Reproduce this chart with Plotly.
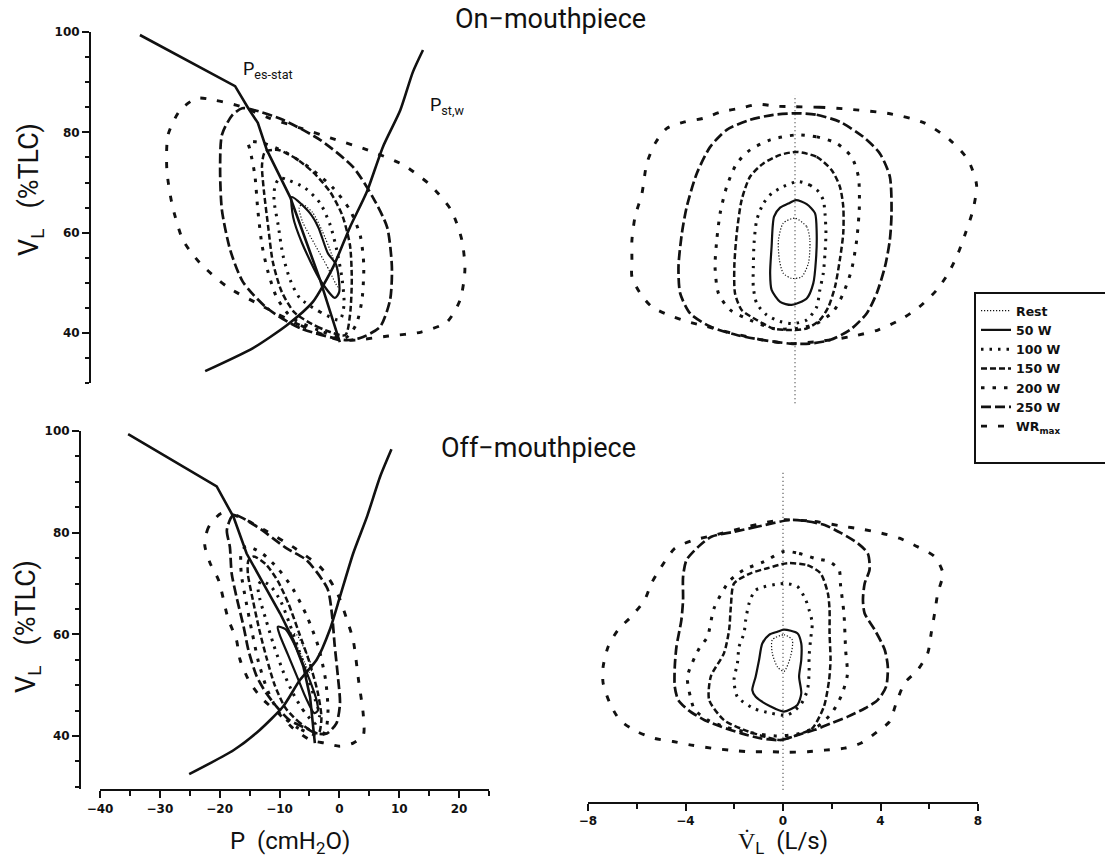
import plotly.graph_objects as go

# ---------------- data: On-mouthpiece, pressure-volume (P in cmH2O, VL in %TLC)
on_pes_p = [-35.5, -19.6, -17.4, -15.8, -14.3, -10.4, -5.4, -2.1]
on_pes_v = [99.4, 89.2, 84.8, 81.9, 76.5, 67.1, 50.6, 38.2]
on_pstw_p = [-24.6, -16.6, -10.9, -6.6, -3.2, -0.4, 2.4, 5.1, 8.0, 10.1, 11.8]
on_pstw_v = [32.4, 37.0, 41.6, 46.2, 53.2, 61.1, 68.1, 77.1, 84.4, 92.0, 96.4]

on_rest_p = [-2.4, -4.1, -6.2, -8.3, -8.9, -8.4, -6.7, -5.1, -3.4, -2.2]
on_rest_v = [49.2, 53.0, 57.5, 62.1, 64.9, 65.7, 64.1, 60.5, 55.5, 51.0]
on_50_p = [-2.9, -5.4, -8.4, -9.9, -10.1, -7.1, -5.7, -4.1, -2.7, -2.2]
on_50_v = [47.0, 50.6, 57.9, 63.1, 67.1, 63.9, 61.1, 55.9, 53.6, 48.2]
on_100_p = [-2.1, -5.4, -8.8, -10.4, -11.6, -12.4, -13.1, -12.9, -12.1, -10.8, -7.9, -5.4, -3.7, -2.6, -1.7, -1.4]
on_100_v = [42.6, 44.2, 47.0, 50.6, 55.5, 61.5, 66.5, 69.5, 70.9, 70.5, 68.9, 65.9, 61.5, 56.5, 50.6, 45.6]
on_150_p = [-1.2, -5.4, -9.6, -11.8, -13.3, -14.1, -14.8, -15.1, -14.6, -12.4, -9.6, -6.6, -3.7, -1.7, -0.4, -0.1, -0.4]
on_150_v = [39.6, 41.0, 44.0, 48.2, 54.2, 61.5, 68.5, 73.5, 76.1, 76.5, 74.9, 72.1, 68.1, 63.5, 57.5, 50.6, 43.6]
on_200_p = [-1.2, -5.7, -10.1, -12.6, -14.1, -15.1, -15.8, -16.3, -17.1, -17.4, -15.1, -11.3, -7.1, -3.2, -0.4, 1.3, 1.9, 1.6, 0.6]
on_200_v = [39.0, 40.6, 43.0, 47.0, 52.2, 57.5, 64.5, 71.5, 76.5, 78.1, 77.9, 76.1, 72.9, 68.9, 64.5, 59.5, 53.6, 46.6, 41.6]
on_250_p = [-1.2, -8.8, -14.3, -18.3, -20.4, -21.8, -22.1, -21.8, -20.1, -18.4, -16.3, -11.6, -5.4, 0.1, 3.4, 5.8, 6.6, 6.3, 4.6, 1.3]
on_250_v = [38.6, 41.0, 45.0, 50.2, 56.5, 64.5, 72.5, 79.5, 83.4, 84.8, 84.4, 82.5, 78.5, 73.1, 67.1, 61.1, 53.2, 46.6, 41.2, 39.0]
on_wr_p = [-2.1, -8.8, -15.4, -20.9, -25.5, -28.3, -30.1, -31.0, -30.8, -28.8, -26.0, -23.0, -18.8, -13.8,
           -8.8, -3.7, 2.5, 8.5, 13.0, 16.5, 18.3, 18.8, 18.0, 15.8, 11.5, 6.0, 0.6]
on_wr_v = [38.6, 41.6, 45.6, 49.2, 54.0, 58.5, 65.5, 72.5, 79.5, 84.4, 86.8, 86.4, 85.2, 82.8,
           80.9, 78.9, 76.5, 73.5, 69.5, 64.5, 58.5, 52.6, 46.6, 42.2, 40.2, 39.4, 38.6]

# ---------------- data: On-mouthpiece, flow-volume (flow in L/s)
on_zero_v = [26.0, 87.4]
onf_rest_f = [0.0, 0.48, 0.61, 0.55, 0.27, -0.14, -0.48, -0.64, -0.68, -0.48]
onf_rest_v = [62.9, 61.2, 58.5, 53.9, 51.2, 50.9, 51.9, 54.6, 58.5, 61.9]
onf_50_f = [0.04, 0.48, 0.82, 0.89, 0.86, 0.75, 0.48, -0.14, -0.61, -0.96, -1.02, -0.96, -0.86, -0.61, -0.27]
onf_50_v = [66.5, 65.7, 63.9, 59.9, 54.6, 49.9, 46.9, 45.6, 46.2, 48.6, 51.9, 57.2, 63.2, 65.0, 65.8]
onf_100_f = [0.14, 0.61, 0.96, 1.16, 1.23, 1.27, 1.23, 1.16, 1.02, 0.89, 0.48, -0.07, -0.61, -1.16, -1.57,
             -1.71, -1.71, -1.68, -1.57, -1.30, -0.96, -0.48]
onf_100_v = [70.2, 69.5, 68.2, 66.5, 63.9, 59.9, 55.9, 51.9, 48.6, 45.2, 42.6, 41.9, 42.3, 43.6, 45.9,
             49.2, 53.2, 57.9, 62.5, 65.8, 67.8, 69.2]
onf_150_f = [0.07, 0.89, 1.50, 1.84, 1.98, 1.98, 1.84, 1.64, 1.37, 1.02, 0.48, -0.20, -0.89, -1.57, -2.19,
             -2.46, -2.49, -2.39, -2.19, -1.84, -1.30, -0.61]
onf_150_v = [76.1, 75.1, 72.5, 69.2, 65.2, 59.9, 54.6, 49.2, 45.2, 42.6, 40.9, 40.6, 40.9, 42.6, 44.6,
             47.9, 53.2, 59.9, 66.5, 71.2, 73.8, 75.5]
onf_200_f = [0.07, 0.89, 1.71, 2.32, 2.60, 2.64, 2.53, 2.32, 1.98, 1.57, 0.89, 0.07, -0.89, -1.84, -2.66,
             -3.14, -3.28, -3.21, -3.07, -2.80, -2.39, -1.84, -1.02]
onf_200_v = [79.5, 79.1, 77.8, 75.1, 71.2, 65.2, 58.5, 52.6, 47.9, 44.3, 41.9, 40.9, 40.9, 42.6, 44.6,
             47.9, 53.2, 58.5, 63.9, 69.2, 73.8, 76.5, 78.5]
onf_250_f = [0.07, 0.89, 1.84, 2.80, 3.48, 3.89, 3.96, 3.89, 3.69, 3.35, 2.94, 2.25, 1.43, 0.61, -0.20,
             -1.30, -2.39, -3.48, -4.30, -4.71, -4.78, -4.64, -4.44, -4.03, -3.48, -2.80, -1.84, -0.89]
onf_250_v = [83.8, 83.5, 82.1, 79.1, 75.8, 71.2, 63.9, 58.5, 53.2, 47.9, 43.9, 40.6, 38.6, 37.9, 37.9,
             38.6, 39.6, 41.3, 43.9, 47.9, 53.2, 59.9, 65.2, 71.8, 77.1, 80.5, 82.5, 83.5]
onf_wr_f = [0.0, 1.0, 2.25, 3.9, 5.3, 6.35, 7.1, 7.45, 7.3, 7.0, 6.7, 6.3, 5.8, 5.1, 4.3, 3.4, 2.3, 1.1,
            -0.2, -1.30, -2.53, -3.62, -4.44, -5.19, -5.87, -6.35, -6.69, -6.69, -6.69, -6.56, -6.28,
            -6.08, -5.74, -5.26, -4.51, -3.76, -3.01, -2.25, -1.50, -0.75]
onf_wr_v = [85.1, 85.0, 84.6, 83.7, 81.9, 78.5, 74.5, 69.5, 64.5, 60.0, 56.0, 52.0, 48.5, 45.2, 42.6, 40.6,
            39.3, 38.4, 37.9, 38.6, 39.9, 41.3, 42.3, 43.6, 45.2, 47.9, 51.2, 54.6, 58.5, 63.2, 67.8,
            73.8, 77.8, 80.8, 82.1, 82.8, 84.1, 84.8, 85.6, 85.2]

# ---------------- data: Off-mouthpiece, pressure-volume
off_pes_p = [-35.3, -20.5, -17.7, -15.5, -12.7, -9.9, -7.7, -6.0, -4.9, -4.1]
off_pes_v = [99.4, 89.1, 83.1, 75.9, 70.0, 64.1, 58.9, 53.6, 47.7, 38.6]
off_pstw_p = [-25.1, -17.7, -13.3, -9.4, -6.6, -3.8, -1.6, 0.1, 2.3, 4.6, 6.8, 8.7]
off_pstw_v = [32.5, 37.2, 41.2, 45.8, 51.0, 55.0, 60.9, 67.4, 75.9, 83.1, 91.0, 96.4]

off_rest_p = [-5.0, -5.8, -7.0, -8.2, -7.2, -6.0, -5.0, -4.6]
off_rest_v = [52.5, 54.5, 57.5, 60.2, 60.0, 57.5, 55.0, 53.0]
off_50_p = [-4.2, -5.6, -7.0, -8.6, -10.0, -10.3, -9.0, -7.5, -6.0, -4.8, -3.8, -3.6]
off_50_v = [44.5, 47.5, 51.5, 56.0, 60.0, 61.5, 61.0, 58.0, 54.0, 50.5, 47.0, 45.0]
off_100_p = [-4.0, -6.0, -7.8, -9.5, -11.0, -12.3, -13.3, -13.6, -13.0, -11.5, -9.8, -8.3, -6.8, -5.3, -4.0, -3.3]
off_100_v = [42.5, 45.0, 48.5, 53.0, 58.0, 63.0, 67.0, 69.5, 70.5, 69.5, 66.5, 62.0, 57.0, 51.5, 47.0, 44.0]
off_150_p = [-3.5, -6.5, -9.0, -10.8, -12.2, -13.4, -14.5, -15.3, -15.2, -14.3, -12.3, -10.3, -8.5, -6.8, -5.0, -3.6, -3.0]
off_150_v = [40.5, 42.5, 45.5, 50.0, 55.5, 61.0, 67.0, 72.0, 74.5, 75.3, 73.8, 70.5, 66.0, 60.5, 54.5, 48.5, 43.5]
off_200_p = [-3.0, -6.8, -10.0, -12.0, -13.5, -14.6, -15.6, -16.4, -16.4, -15.6, -13.0, -10.3, -7.8, -5.4, -3.5, -2.3, -1.9, -2.2]
off_200_v = [40.0, 41.5, 44.5, 49.0, 54.5, 60.5, 66.5, 72.0, 76.0, 77.3, 76.0, 73.0, 69.0, 63.5, 57.5, 51.0, 45.0, 41.5]
off_250_p = [-17.7, -18.8, -18.3, -18.0, -17.2, -16.0, -15.2, -13.8, -12.2, -10.5, -8.3, -5.5, -3.8, -2.1,
             -0.5, 0.1, -0.3, -0.8, -1.2, -2.0, -5.5, -8.8, -13.8]
off_250_v = [83.5, 80.5, 77.2, 72.0, 67.4, 61.5, 56.9, 51.7, 48.4, 45.8, 43.1, 41.5, 40.5, 40.5,
             42.5, 46.4, 52.3, 58.0, 63.5, 69.0, 74.6, 76.9, 81.2]
off_wr_p = [-19.7, -21.9, -22.5, -21.6, -20.2, -18.6, -17.2, -16.6, -14.9, -12.7, -10.2, -8.0, -4.8, -2.4,
            0.0, 2.3, 4.0, 4.0, 3.2, 2.3, 1.2, -0.3, -3.0, -7.5, -12.5, -16.5]
off_wr_v = [83.8, 81.0, 77.6, 74.0, 70.7, 63.1, 58.9, 55.0, 50.4, 47.1, 44.5, 41.8, 39.2, 38.6,
            38.0, 38.6, 40.2, 44.1, 51.0, 58.9, 63.1, 68.0, 73.0, 77.0, 80.5, 83.0]

# ---------------- data: Off-mouthpiece, flow-volume
off_zero_v = [29.4, 92.0]
offf_rest_f = [-0.44, 0.04, 0.38, 0.31, 0.04, -0.23, -0.44]
offf_rest_v = [58.9, 59.9, 58.9, 55.6, 52.7, 53.6, 56.3]
offf_50_f = [0.04, 0.59, 0.75, 0.75, 0.66, 0.75, 0.59, 0.04, -0.51, -1.12, -1.26, -1.12, -0.98, -0.85, -0.57, -0.23]
offf_50_v = [60.9, 60.2, 58.2, 55.0, 51.7, 48.4, 46.1, 44.8, 45.8, 47.7, 49.0, 51.7, 55.0, 58.2, 59.9, 60.5]
offf_100_f = [0.04, 0.59, 0.93, 1.07, 1.20, 1.13, 1.07, 1.07, 1.00, 0.72, 0.18, -0.51, -1.19, -1.87, -2.01,
              -1.87, -1.80, -1.60, -1.53, -1.39, -1.12]
offf_100_v = [70.0, 69.4, 66.8, 64.8, 62.2, 58.9, 55.6, 52.3, 49.0, 46.1, 44.1, 44.5, 45.4, 47.7, 51.0,
              54.3, 57.6, 60.2, 62.8, 66.1, 68.7]
offf_150_f = [0.18, 1.00, 1.54, 1.84, 1.91, 1.91, 1.95, 1.89, 1.68, 1.20, 0.59, -0.10, -0.78, -1.60, -2.42,
              -3.03, -2.96, -2.42, -2.21, -2.14, -2.01, -1.33, -0.64]
offf_150_v = [74.0, 73.6, 72.0, 68.1, 64.8, 60.2, 55.0, 51.0, 45.8, 41.5, 40.2, 39.2, 39.9, 41.2, 43.1,
              47.1, 51.7, 56.3, 60.9, 65.4, 70.0, 72.0, 73.0]
offf_200_f = [0.04, 0.66, 1.34, 1.89, 2.30, 2.36, 2.50, 2.57, 2.64, 2.40, 2.00, 1.40, 0.60, -0.30, -1.40,
              -2.40, -3.07, -3.62, -3.80, -3.92, -3.44, -3.10, -2.83, -2.21, -1.60, -0.78]
offf_200_v = [76.3, 75.9, 74.9, 74.3, 72.7, 69.7, 64.1, 56.9, 52.0, 48.0, 44.5, 41.8, 40.4, 40.0, 40.7,
              41.8, 43.1, 45.1, 47.7, 51.7, 57.2, 59.5, 65.1, 70.4, 72.7, 74.3]
offf_250_f = [0.30, -1.02, -1.98, -2.94, -3.48, -3.96, -4.10, -4.10, -4.17, -4.37, -4.44, -4.44, -4.30,
              -3.89, -3.21, -2.53, -1.71, -0.89, -0.07, 0.61, 1.30, 1.98, 2.66, 3.35, 3.89, 4.23, 4.30,
              4.17, 3.76, 3.35, 3.28, 3.35, 3.55, 3.48, 3.07, 2.39, 1.71, 0.90]
offf_250_v = [82.5, 81.2, 80.2, 79.2, 77.2, 74.6, 71.3, 66.8, 62.8, 57.6, 53.6, 49.7, 47.1,
              45.1, 43.1, 41.8, 40.5, 39.5, 39.2, 40.2, 41.2, 42.5, 43.8, 45.4, 47.1, 49.7, 53.6,
              57.0, 60.9, 64.1, 66.8, 70.0, 72.7, 75.9, 77.9, 79.9, 81.5, 82.3]
offf_wr_f = [-0.07, 1.30, 2.39, 3.21, 4.03, 4.78, 5.53, 6.22, 6.56, 6.35, 6.22, 6.08, 5.94, 5.53, 4.99,
             4.64, 4.37, 3.89, 3.21, 2.53, 1.71, 1.02, 0.20, -0.61, -1.43, -2.19, -2.94, -3.76, -4.51,
             -5.26, -6.01, -6.69, -7.10, -7.38, -7.38, -7.17, -6.76, -6.22, -5.67, -5.40, -4.99, -4.44,
             -3.76, -2.80, -1.43]
offf_wr_v = [82.5, 82.2, 81.3, 80.7, 79.9, 78.9, 77.2, 75.3, 72.0, 68.1, 64.1, 60.2, 56.3, 53.0, 50.4,
             46.4, 42.8, 40.9, 38.6, 37.6, 37.2, 36.9, 36.8, 36.9, 36.9, 37.2, 37.6, 38.2, 38.9,
             39.5, 40.9, 43.1, 46.4, 50.4, 53.6, 57.6, 60.9, 63.5, 66.8, 70.0, 73.3, 76.9,
             78.4, 79.5, 81.2]

levels = ["Rest", "50 W", "100 W", "150 W", "200 W", "250 W", "WR<sub>max</sub>"]
p_ticks = [-40, -30, -20, -10, 0, 10, 20]
f_ticks = [-8, -4, 0, 4, 8]
v_ticks = [40, 60, 80, 100]

# ---------------- styling
W, H = 1105, 867
TICK_FONT = "DejaVu Sans"
TEXT_FONT = "Roboto"
INK = "#111111"


def fx(px):
    return px / W


def fy(py):
    return 1 - py / H


line_styles = {
    "Rest": dict(dash="1.2px,1.8px", width=1.2),
    "50 W": dict(dash="solid", width=2.2),
    "100 W": dict(dash="2.5px,6px", width=3.0),
    "150 W": dict(dash="6px,3px", width=2.5),
    "200 W": dict(dash="3.5px,8px", width=3.0),
    "250 W": dict(dash="10px,4px", width=2.7),
    "WR<sub>max</sub>": dict(dash="6px,11px", width=2.9),
}

panels = {
    ("x", "y"): [(on_rest_p, on_rest_v), (on_50_p, on_50_v), (on_100_p, on_100_v), (on_150_p, on_150_v),
                 (on_200_p, on_200_v), (on_250_p, on_250_v), (on_wr_p, on_wr_v)],
    ("x2", "y2"): [(onf_rest_f, onf_rest_v), (onf_50_f, onf_50_v), (onf_100_f, onf_100_v),
                   (onf_150_f, onf_150_v), (onf_200_f, onf_200_v), (onf_250_f, onf_250_v),
                   (onf_wr_f, onf_wr_v)],
    ("x3", "y3"): [(off_rest_p, off_rest_v), (off_50_p, off_50_v), (off_100_p, off_100_v),
                   (off_150_p, off_150_v), (off_200_p, off_200_v), (off_250_p, off_250_v),
                   (off_wr_p, off_wr_v)],
    ("x4", "y4"): [(offf_rest_f, offf_rest_v), (offf_50_f, offf_50_v), (offf_100_f, offf_100_v),
                   (offf_150_f, offf_150_v), (offf_200_f, offf_200_v), (offf_250_f, offf_250_v),
                   (offf_wr_f, offf_wr_v)],
}

fig = go.Figure()

# zero-flow reference lines
for (xa, ya), zv in [(("x2", "y2"), on_zero_v), (("x4", "y4"), off_zero_v)]:
    fig.add_trace(go.Scatter(x=[0, 0], y=zv, mode="lines", xaxis=xa, yaxis=ya, showlegend=False,
                             hoverinfo="skip", line=dict(color=INK, width=1, dash="1px,3px")))

# static recoil curves
for xa, ya, pes_p, pes_v, pst_p, pst_v in [("x", "y", on_pes_p, on_pes_v, on_pstw_p, on_pstw_v),
                                           ("x3", "y3", off_pes_p, off_pes_v, off_pstw_p, off_pstw_v)]:
    fig.add_trace(go.Scatter(x=pes_p, y=pes_v, mode="lines", xaxis=xa, yaxis=ya, showlegend=False,
                             line=dict(color=INK, width=2.6)))
    fig.add_trace(go.Scatter(x=pst_p, y=pst_v, mode="lines", xaxis=xa, yaxis=ya, showlegend=False,
                             line=dict(color=INK, width=2.6, shape="spline", smoothing=0.6)))

# breathing loops, one closed curve per work rate
for (xa, ya), loops in panels.items():
    for name, (xs, vs) in zip(levels, loops):
        st = line_styles[name]
        fig.add_trace(go.Scatter(
            x=list(xs) + [xs[0]], y=list(vs) + [vs[0]], mode="lines", name=name,
            xaxis=xa, yaxis=ya, legendgroup=name, showlegend=(xa == "x2"),
            line=dict(color=INK, width=st["width"], dash=st["dash"], shape="spline", smoothing=0.7),
        ))

tickfont = dict(family=TICK_FONT, size=12, color=INK, weight="bold")
axis_line = dict(showline=True, linecolor=INK, linewidth=2, ticks="outside", ticklen=7, tickwidth=2,
                 tickcolor=INK, showgrid=False, zeroline=False, tickfont=tickfont)
hidden = dict(visible=False, showgrid=False, zeroline=False)
minor_v = dict(dtick=5, tick0=0, ticklen=4, tickwidth=1.5, ticks="outside", tickcolor=INK)

fig.update_layout(
    width=W, height=H, margin=dict(l=0, r=0, t=0, b=0, autoexpand=False),
    paper_bgcolor="white", plot_bgcolor="rgba(0,0,0,0)",
    font=dict(family=TEXT_FONT, color=INK),
    xaxis=dict(domain=[fx(113), fx(502)], range=[-40, 25], anchor="y", **hidden),
    yaxis=dict(domain=[fy(383.2), fy(32)], range=[30, 100], anchor="free", position=fx(90),
               tickvals=v_ticks, minor=minor_v, **axis_line),
    xaxis2=dict(domain=[fx(600), fx(990)], range=[-8, 8], anchor="y2", **hidden),
    yaxis2=dict(domain=[fy(408.3), fy(32)], range=[25, 100], anchor="x2", **hidden),
    xaxis3=dict(domain=[fx(100), fx(489)], range=[-40, 25], anchor="y3", tickvals=p_ticks,
                minor=dict(dtick=5, tick0=0, ticklen=5, tickwidth=1.5, ticks="outside", tickcolor=INK),
                **axis_line),
    yaxis3=dict(domain=[fy(789.4), fy(431)], range=[29.5, 100], anchor="free", position=fx(80),
                tickvals=v_ticks, minor=minor_v, **axis_line),
    xaxis4=dict(domain=[fx(588), fx(978)], range=[-8, 8], anchor="y4", tickvals=f_ticks,
                minor=dict(dtick=2, tick0=0, ticklen=5, tickwidth=1.5, ticks="outside", tickcolor=INK),
                **axis_line),
    yaxis4=dict(domain=[fy(802), fy(431)], range=[27, 100], anchor="x4", **hidden),
    legend=dict(x=fx(976), y=fy(296), xanchor="left", yanchor="top", bgcolor="rgba(0,0,0,0)",
                borderwidth=0, tracegroupgap=0, itemwidth=30,
                font=dict(family=TICK_FONT, size=12.5, color=INK, weight="bold")),
)

# legend frame, running off the right edge of the page
fig.add_shape(type="rect", xref="paper", yref="paper", x0=fx(975), x1=fx(1120), y0=fy(463), y1=fy(293),
              line=dict(color=INK, width=2), fillcolor="rgba(0,0,0,0)", layer="below")


def label(text, px, py, size, angle=0, family=TEXT_FONT):
    fig.add_annotation(text=text, x=fx(px), y=fy(py), xref="paper", yref="paper", showarrow=False,
                       xanchor="center", yanchor="middle", textangle=angle,
                       font=dict(family=family, size=size, color=INK))


label("On\u2212mouthpiece", 550, 19, 27)
label("Off\u2212mouthpiece", 538, 448, 27)
label("P<sub>es-stat</sub>", 268, 70, 18)
label("P<sub>st,w</sub>", 447, 106, 18)
label("V<sub>L</sub>   (%TLC)", 31, 190, 27, angle=-90)
label("V<sub>L</sub>   (%TLC)", 28, 627, 27, angle=-90)
label("P  (cmH<sub>2</sub>O)", 290, 842, 24)
label("V\u0307<sub>L</sub>  (L/s)", 783, 842, 24)

fig.write_html("out.html")
